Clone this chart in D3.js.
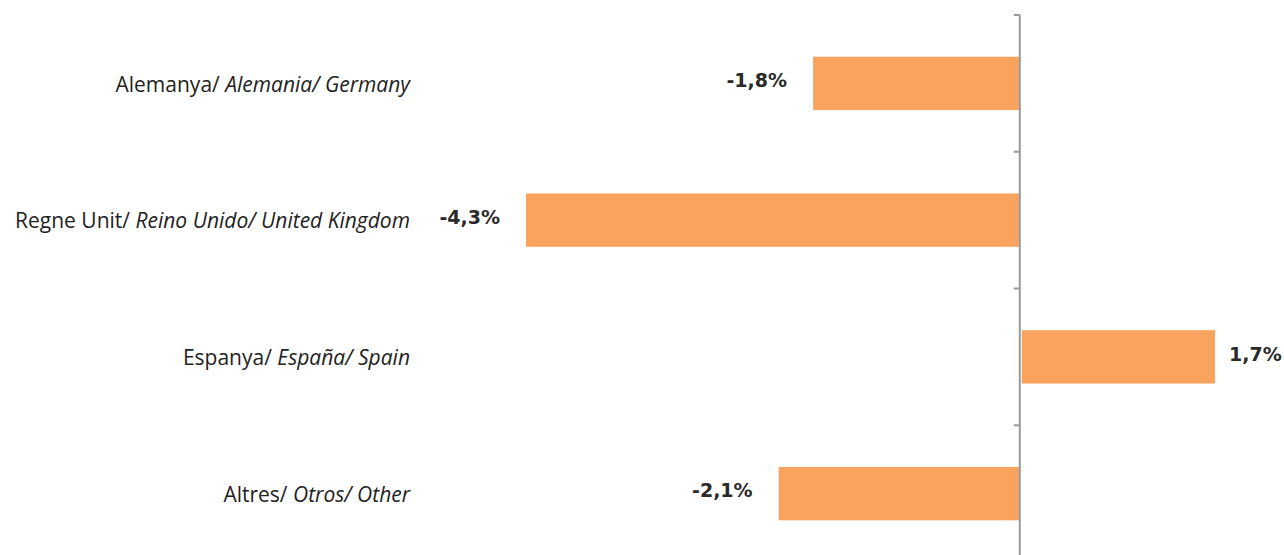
<!DOCTYPE html>
<html>
<head>
<meta charset="utf-8">
<script src="https://cdn.jsdelivr.net/npm/d3@7"></script>
<style>
  html, body { margin: 0; padding: 0; background: #fff; }
  svg { display: block; }
  .cat { font-family: "Open Sans", Lato, sans-serif; font-size: 21px; fill: #222; }
  .val { font-family: "DejaVu Sans", Verdana, sans-serif; font-weight: bold; font-size: 19px; fill: #2a2a2a; }
</style>
</head>
<body>
<div id="chart"></div>
<script>
// categories: upright (Catalan) part and italic (Spanish / English) part
var catMain = ["Alemanya/", "Regne Unit/", "Espanya/", "Altres/"];
var catItalic = [" Alemania/ Germany", " Reino Unido/ United Kingdom", " España/ Spain", " Otros/ Other"];
var values = [-1.8, -4.3, 1.7, -2.1];
var valueLabels = ["-1,8%", "-4,3%", "1,7%", "-2,1%"];

var width = 1284, height = 555;

var svg = d3.select("#chart").append("svg")
    .attr("width", width)
    .attr("height", height);

var x = d3.scaleLinear()
    .domain(d3.extent(values))
    .range([526, 1215]);

var y = d3.scaleBand()
    .domain(d3.range(values.length))
    .range([15, 562])
    .paddingInner(0.61)
    .paddingOuter(0.305);

var x0 = x(0);

// bars
svg.selectAll("rect.bar")
    .data(values)
    .enter()
    .append("rect")
    .attr("class", "bar")
    .attr("x", function(d){ return d < 0 ? x(d) : x0 + 2; })
    .attr("y", function(d, i){ return y(i); })
    .attr("width", function(d){ return d < 0 ? x0 - x(d) : x(d) - x0 - 2; })
    .attr("height", y.bandwidth())
    .attr("fill", "#f9a35f");

// axis line and ticks at band boundaries
svg.append("line")
    .attr("x1", x0).attr("x2", x0)
    .attr("y1", 15).attr("y2", height)
    .attr("stroke", "#999")
    .attr("stroke-width", 2);

var boundaries = d3.range(values.length).map(function(i){
    return y(i) - y.step() * y.paddingInner() / 2;
});
svg.selectAll("line.tick")
    .data(boundaries)
    .enter()
    .append("line")
    .attr("class", "tick")
    .attr("x1", x0 - 6).attr("x2", x0)
    .attr("y1", function(d){ return d; })
    .attr("y2", function(d){ return d; })
    .attr("stroke", "#999")
    .attr("stroke-width", 2);

// category labels
var cats = svg.selectAll("text.cat")
    .data(catMain)
    .enter()
    .append("text")
    .attr("class", "cat")
    .attr("x", 410)
    .attr("y", function(d, i){ return y(i) + y.bandwidth() / 2 + 1; })
    .attr("dy", "0.35em")
    .attr("text-anchor", "end");
cats.append("tspan").text(function(d){ return d; });
cats.append("tspan")
    .style("font-style", "italic")
    .text(function(d, i){ return catItalic[i]; });

// value labels
svg.selectAll("text.val")
    .data(values)
    .enter()
    .append("text")
    .attr("class", "val")
    .attr("x", function(d){ return d < 0 ? x(d) - 26 : x(d) + 14; })
    .attr("y", function(d, i){ return y(i) + y.bandwidth() / 2 - 3; })
    .attr("dy", "0.35em")
    .attr("text-anchor", function(d){ return d < 0 ? "end" : "start"; })
    .text(function(d, i){ return valueLabels[i]; });
</script>
</body>
</html>
